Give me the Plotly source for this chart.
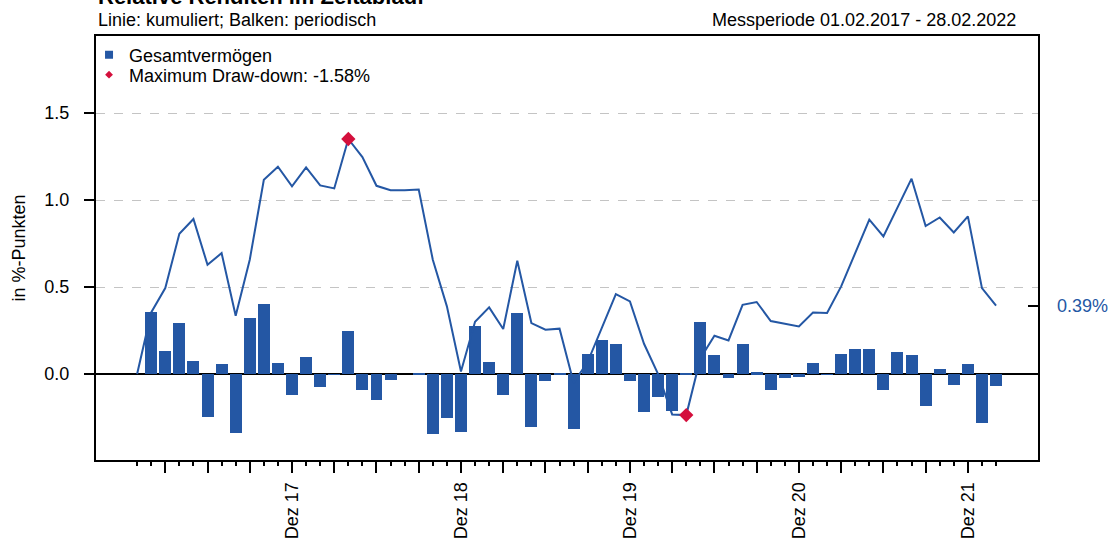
import plotly.graph_objects as go
import pandas as pd

# ---- data -------------------------------------------------------------
# month labels (Jan 2017 .. Feb 2022); index 0 = start of measurement
_de = {1: "Jan", 2: "Feb", 3: "Mär", 4: "Apr", 5: "Mai", 6: "Jun", 7: "Jul",
       8: "Aug", 9: "Sep", 10: "Okt", 11: "Nov", 12: "Dez"}
months = [f"{_de[d.month]} {d.strftime('%y')}"
          for d in pd.date_range("2017-01-01", "2022-02-01", freq="MS")]

# cumulative relative return (line), in %-points, one per month
cumulative = [0.000, 0.354, 0.494, 0.806, 0.891, 0.628, 0.695, 0.335, 0.657, 1.117,
              1.192, 1.079, 1.188, 1.084, 1.067, 1.351, 1.247, 1.082, 1.057, 1.056,
              1.061, 0.657, 0.389, 0.015, 0.301, 0.383, 0.259, 0.651, 0.293, 0.255,
              0.261, -0.050, 0.070, 0.260, 0.460, 0.418, 0.174, 0.000, -0.232, -0.236,
              0.090, 0.220, 0.193, 0.398, 0.414, 0.305, 0.289, 0.274, 0.354, 0.351,
              0.504, 0.695, 0.887, 0.791, 0.960, 1.123, 0.851, 0.900, 0.814, 0.906,
              0.494, 0.393]

# periodic (monthly) relative return (bars), Feb 2017 .. Feb 2022
periodic = [0.358, 0.134, 0.295, 0.077, -0.249, 0.059, -0.341, 0.324, 0.404, 0.065,
            -0.123, 0.100, -0.077, -0.005, 0.249, -0.094, -0.151, -0.036, 0.000, 0.008,
            -0.347, -0.255, -0.335, 0.278, 0.071, -0.123, 0.352, -0.307, -0.042, 0.003,
            -0.318, 0.117, 0.197, 0.174, -0.038, -0.216, -0.134, -0.211, 0.008, 0.301,
            0.111, -0.025, 0.174, 0.011, -0.090, -0.025, -0.019, 0.065, -0.005, 0.117,
            0.146, 0.146, -0.090, 0.128, 0.111, -0.186, 0.031, -0.065, 0.059, -0.284,
            -0.071]

# maximum draw-down: peak and trough months
drawdown_months = ["Apr 18", "Apr 20"]
drawdown_label = "Maximum Draw-down: -1.58%"
series_label = "Gesamtvermögen"

title = "Relative Renditen im Zeitablauf"
subtitle = "Linie: kumuliert; Balken: periodisch"
period = "Messperiode 01.02.2017 - 28.02.2022"
y_title = "in %-Punkten"
y_ticks = [0.0, 0.5, 1.0, 1.5]

# ---- styling -----------------------------------------------------------
BLUE = "#2457a4"
RED = "#d40f3c"
FONT = "Liberation Sans, Arial, sans-serif"
FS = 18

x_line = list(range(len(months)))
x_bar = x_line[1:]
dd_x = [months.index(m) for m in drawdown_months]
dd_y = [cumulative[i] for i in dd_x]

major = [i for i, m in enumerate(months) if m.split()[0] in ("Mär", "Jun", "Sep", "Dez")]
major_text = [months[i] if months[i].startswith("Dez") else "" for i in major]
minor = [i for i in x_line if i not in major]

fig = go.Figure()
fig.add_trace(go.Bar(x=x_bar, y=periodic, marker=dict(color=BLUE, line=dict(width=0)),
                     width=0.85, showlegend=False, hoverinfo="skip"))
fig.add_trace(go.Scatter(x=x_line, y=cumulative, mode="lines",
                         line=dict(color=BLUE, width=2), showlegend=False))
fig.add_trace(go.Scatter(x=dd_x, y=dd_y, mode="markers",
                         marker=dict(symbol="diamond", size=11, color=RED),
                         showlegend=False))
# legend entries
fig.add_trace(go.Scatter(x=[None], y=[None], mode="markers", name=series_label,
                         marker=dict(symbol="square", size=8, color=BLUE), legend="legend"))
fig.add_trace(go.Scatter(x=[None], y=[None], mode="markers", name=drawdown_label,
                         marker=dict(symbol="diamond", size=6, color=RED), legend="legend2"))
# right-hand marker of final value
fig.add_trace(go.Scatter(x=[x_line[-1]], y=[cumulative[-1]], yaxis="y2", mode="markers",
                         marker=dict(size=0.1, opacity=0), showlegend=False, hoverinfo="skip"))

y_range = [-0.494, 1.943]
x_range = [-2.92, 63.98]

fig.update_layout(
    width=1113, height=543,
    margin=dict(l=96, r=75, t=36, b=83, autoexpand=False),
    paper_bgcolor="white", plot_bgcolor="white",
    font=dict(family=FONT, size=FS, color="black"),
    bargap=0,
    xaxis=dict(range=x_range, showgrid=False, zeroline=False,
               showline=True, mirror=True, linecolor="black", linewidth=2,
               tickmode="array", tickvals=major, ticktext=major_text,
               ticks="outside", ticklen=11, tickwidth=1.5, tickcolor="black",
               tickangle=-90, ticklabelstandoff=2,
               minor=dict(tickmode="array", tickvals=minor, ticks="outside",
                          ticklen=4, tickwidth=1.5, tickcolor="black", showgrid=False)),
    yaxis=dict(range=y_range, tickvals=y_ticks, tickformat=".1f",
               showgrid=True, gridcolor="#c4c4c4", griddash="dash", gridwidth=1,
               zeroline=True, zerolinecolor="black", zerolinewidth=1.5,
               showline=True, mirror=True, linecolor="black", linewidth=2,
               ticks="outside", ticklen=10, tickwidth=1.5, tickcolor="black",
               ticklabelstandoff=11,
               title=dict(text=y_title, standoff=14, font=dict(size=FS))),
    yaxis2=dict(range=y_range, overlaying="y", side="right", showgrid=False,
                zeroline=False, showline=False,
                tickvals=[cumulative[-1]], ticktext=[f"{cumulative[-1]:.2f}%"],
                ticks="inside", ticklen=10, tickwidth=1.5, tickcolor="black",
                tickfont=dict(color=BLUE, size=FS), ticklabelstandoff=18),
    legend=dict(x=-0.0074, y=0.955, xanchor="left", yanchor="middle",
                bgcolor="rgba(0,0,0,0)", font=dict(size=FS), itemwidth=30),
    legend2=dict(x=-0.0074, y=0.908, xanchor="left", yanchor="middle",
                 bgcolor="rgba(0,0,0,0)", font=dict(size=FS), itemwidth=30),
    annotations=[
        dict(text=f"<b>{title}</b>", xref="paper", yref="paper", x=0, y=1.094,
             xanchor="left", yanchor="middle", showarrow=False, font=dict(size=22)),
        dict(text=subtitle, xref="paper", yref="paper", x=0, y=1.0377,
             xanchor="left", yanchor="middle", showarrow=False, font=dict(size=FS)),
        dict(text=period, xref="paper", yref="paper", x=0.9788, y=1.0377,
             xanchor="right", yanchor="middle", showarrow=False, font=dict(size=FS)),
    ],
)

fig.write_html("out.html", config={"displayModeBar": False},
               post_script="document.body.style.margin='0px';")
